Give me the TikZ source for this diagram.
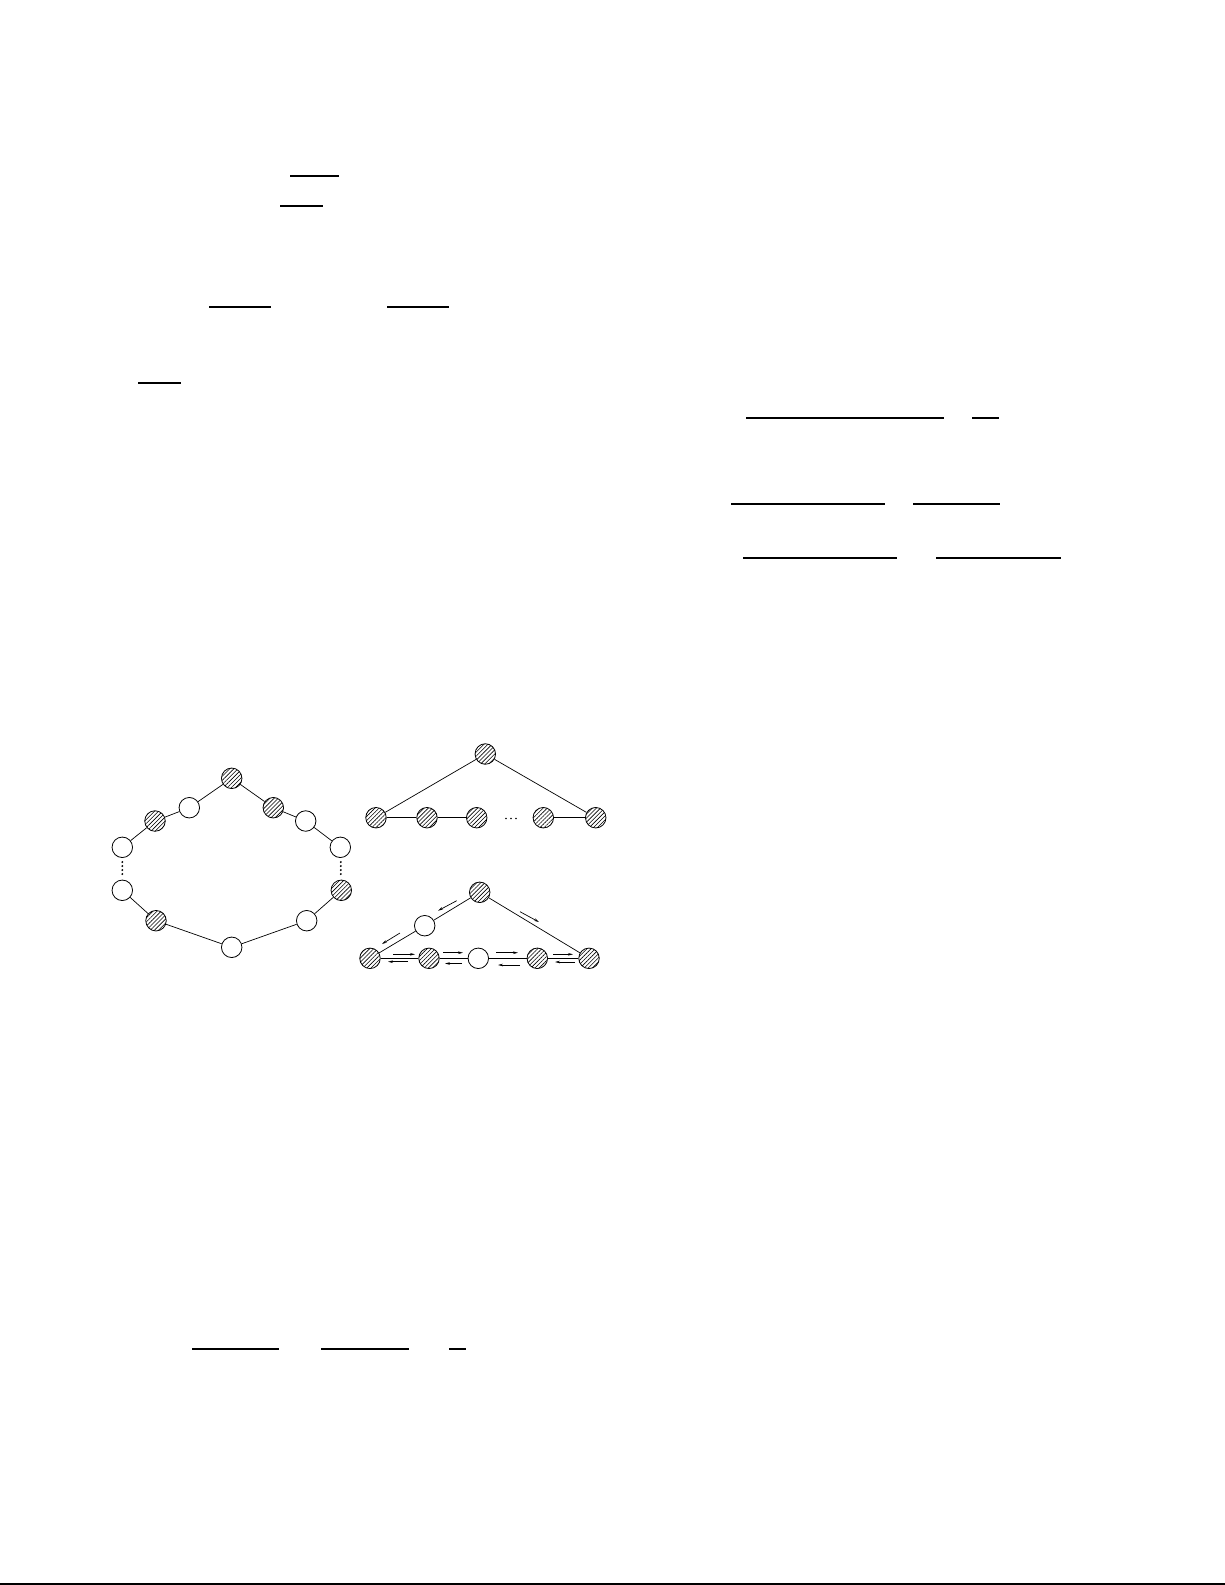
\documentclass[tikz,border=0pt]{standalone}
\usetikzlibrary{patterns.meta,arrows.meta}
\tikzset{
  vtx/.style={circle,draw,line width=0.8pt,minimum size=20.5pt,inner sep=0pt,fill=white},
  hvtx/.style={vtx,pattern={Lines[angle=45,distance=2.9pt,line width=0.6pt]}},
  edge/.style={line width=0.7pt},
  bar/.style={line width=2pt},
  harp/.style={line width=0.7pt,-{Stealth[length=5pt,width=2.6pt]}},
  dotm/.style={circle,fill,inner sep=0pt,minimum size=2.1pt}
}
\begin{document}
\begin{tikzpicture}[x=1pt,y=-1pt]
\useasboundingbox (0,0) rectangle (1225,1585);
% fraction bars
\draw[bar] (290,176) -- (339,176);
\draw[bar] (280,206) -- (323,206);
\draw[bar] (209,307) -- (271,307);
\draw[bar] (387,307) -- (449,307);
\draw[bar] (138,383) -- (181,383);
\draw[bar] (746,418) -- (944,418);
\draw[bar] (972,418) -- (999,418);
\draw[bar] (731,504) -- (885,504);
\draw[bar] (913,504) -- (1000,504);
\draw[bar] (743,558) -- (897,558);
\draw[bar] (936,558) -- (1061,558);
\draw[bar] (192,1349) -- (279,1349);
\draw[bar] (321,1349) -- (409,1349);
\draw[bar] (449,1349) -- (466,1349);
\draw[line width=1.4pt] (0,1583.8) -- (1225,1583.8);

% ring
\node[hvtx] (t) at (231.7,778.3) {};
\node[vtx]  (a1) at (189.3,807.7) {};
\node[hvtx] (a2) at (155,821) {};
\node[vtx]  (a3) at (122.3,847.3) {};
\node[vtx]  (a4) at (122.3,890.3) {};
\node[hvtx] (a5) at (156,920.7) {};
\node[vtx]  (b) at (231.7,947.3) {};
\node[vtx]  (c5) at (306.7,920.7) {};
\node[hvtx] (c4) at (341.3,890.3) {};
\node[vtx]  (c3) at (340.3,847.3) {};
\node[vtx]  (c2) at (305.7,821) {};
\node[hvtx] (c1) at (273.3,807.7) {};
\draw[edge] (t) -- (a1) (a1) -- (a2) (a2) -- (a3);
\draw[edge] (a4) -- (a5) (a5) -- (b) (b) -- (c5) (c5) -- (c4);
\draw[edge] (c3) -- (c2) (c2) -- (c1) (c1) -- (t);
\foreach \y [count=\i] in {862,866,870,874} {
  \node[dotm] (ld\i) at (122.3,\y) {};
  \node[dotm] (rd\i) at (340.8,\y) {};
}

% top right
\node[hvtx] (T) at (485.3,754) {};
\node[hvtx] (B1) at (376,817.7) {};
\node[hvtx] (B2) at (427,817.7) {};
\node[hvtx] (B3) at (476.7,817.7) {};
\node[hvtx] (B4) at (543.3,817.7) {};
\node[hvtx] (B5) at (595.7,817.7) {};
\draw[edge] (T) -- (B1) (T) -- (B5);
\draw[edge] (B1) -- (B2) (B2) -- (B3) (B4) -- (B5);
\foreach \x [count=\i] in {506,511,516} \node[dotm,minimum size=1.7pt] (hd\i) at (\x,818.5) {};

% bottom right
\node[hvtx] (U) at (479.7,892.3) {};
\node[vtx]  (V) at (424.7,925.7) {};
\node[hvtx] (C1) at (370,958.3) {};
\node[hvtx] (C2) at (429,958.3) {};
\node[vtx]  (C3) at (478.3,958.3) {};
\node[hvtx] (C4) at (537.3,958.3) {};
\node[hvtx] (C5) at (589,958.3) {};
\draw[edge] (U) -- (V) (V) -- (C1) (U) -- (C5);
\draw[edge] (C1) -- (C2) (C2) -- (C3) (C3) -- (C4) (C4) -- (C5);
% transfer arrows
\draw[harp] (456.7,900.7) -- (438,910.7);
\draw[harp] (400,933) -- (382,944);
\draw[harp] (520,911.7) -- (539,922);
\draw[harp] (393,954.3) -- (415,954.3);
\draw[harp] (408,961.7) -- (388,961.7);
\draw[harp] (443,952.7) -- (463,952.7);
\draw[harp] (462,963.5) -- (445,963.5);
\draw[harp] (496,952.7) -- (518,952.7);
\draw[harp] (520,965) -- (498,965);
\draw[harp] (553,954.3) -- (573,954.3);
\draw[harp] (575,962) -- (555,962);
\end{tikzpicture}
\end{document}
